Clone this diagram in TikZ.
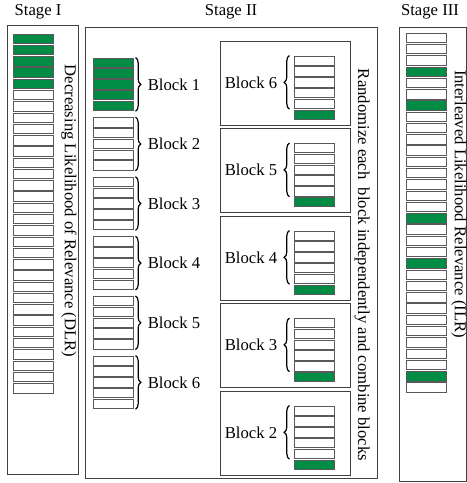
\documentclass[tikz,border=0pt]{standalone}
\usepackage{fontspec}
\setmainfont{Liberation Serif}
\usetikzlibrary{positioning,decorations.pathreplacing}
\definecolor{relgreen}{RGB}{0,140,68}

\begin{document}
\begin{tikzpicture}[x=0.75pt, y=-0.75pt,
  every node/.style={font=\fontsize{12.5}{15}\selectfont},
  panel/.style={draw=black!75, line width=0.6pt},
  cell/.style={draw=black!65, line width=0.75pt, fill=white, minimum width=30pt, minimum height=7.1pt, inner sep=0pt},
  hit/.style={cell, fill=relgreen},
  inbox/.style={panel, minimum width=97.5pt, minimum height=63pt, inner sep=0pt},
  brc/.style={decorate, decoration={brace, amplitude=4pt}, line width=0.9pt},
  vtxt/.style={rotate=-90, inner sep=0pt}
]
\useasboundingbox (0,0) rectangle (467,483);

\node (stI) at (38,12) {Stage I};
\node (stII) at (231,12) {Stage II};
\node (stIII) at (430,12) {Stage III};

\draw[panel] (7,25) rectangle (78,474);
\draw[panel] (85,27) rectangle (377,478);
\draw[panel] (399,27) rectangle (466,481);

\foreach \i in {1,...,32}{
  \ifnum\i<6 \node[hit] (I\i) at (33.5,{38.9+11.27*(\i-1)}) {};
  \else \node[cell] (I\i) at (33.5,{38.9+11.27*(\i-1)}) {};
  \fi
}
\node[vtxt] (dlr) at (69,211) {Decreasing Likelihood of Relevance (DLR)};

\foreach \b in {1,...,6}{
  \foreach \j in {1,...,5}{
    \ifnum\b=1 \node[hit] (L\b-\j) at (113,{58+59.6*(\b-1)+4.75+10.8*(\j-1)}) {};
    \else \node[cell] (L\b-\j) at (113,{58+59.6*(\b-1)+4.75+10.8*(\j-1)}) {};
    \fi
  }
  \draw[brc] ([xshift=1.5pt]L\b-1.north east) -- ([xshift=1.5pt]L\b-5.south east)
    node[midway, right=5.5pt] (LB\b) {Block \b};
}

\foreach \k/\n in {0/6,1/5,2/4,3/3,4/2}{
  \node[inbox] (R\n) at (285,{41+87.5*\k+42}) {};
  \foreach \j in {1,...,5}
    \node[cell] (R\n-\j) at (314,{41+87.5*\k+15+4.75+10.8*(\j-1)}) {};
  \node[hit] (R\n-6) at (314,{41+87.5*\k+15+4.75+10.8*5}) {};
  \draw[brc] ([xshift=-3pt]R\n-5.south west) -- ([xshift=-3pt]R\n-1.north west)
    node[midway, left=5.5pt] (RB\n) {Block \n};
}
\node[vtxt] (rnd) at (362,265) {Randomize each~ block independently and combine blocks};

\foreach \i in {1,...,32}{
  \pgfmathtruncatemacro\g{(\i==4)||(\i==7)||(\i==17)||(\i==21)||(\i==31)}
  \ifnum\g=1 \node[hit] (III\i) at (426,{37.9+11.28*(\i-1)}) {};
  \else \node[cell] (III\i) at (426,{37.9+11.28*(\i-1)}) {};
  \fi
}
\node[vtxt] (ilr) at (459,204) {Interleaved Likelihood Relevance (ILR)};
\end{tikzpicture}
\end{document}
